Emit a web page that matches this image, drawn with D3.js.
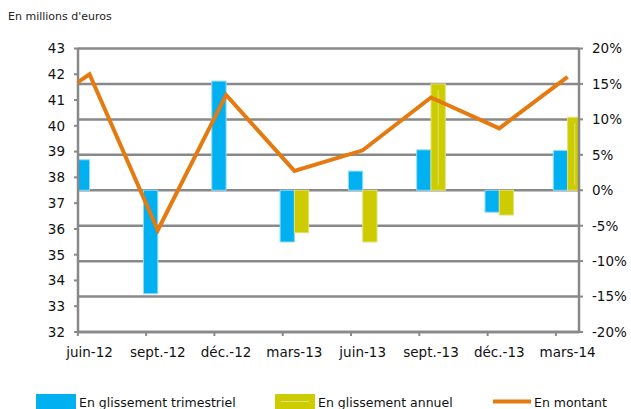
<!DOCTYPE html>
<html>
<head>
<meta charset="utf-8">
<script src="https://cdn.jsdelivr.net/npm/d3@7"></script>
<style>
  html, body { margin: 0; padding: 0; background: #fff; }
  svg { display: block; }
</style>
</head>
<body>
<svg id="chart" width="631" height="409"></svg>
<script>
// ========= Data ========= //
const categories = ['juin-12', 'sept.-12', 'déc.-12', 'mars-13', 'juin-13', 'sept.-13', 'déc.-13', 'mars-14'];
const glissementTrimestriel = [4.3, -14.6, 15.4, -7.3, 2.7, 5.7, -3.1, 5.6];
const glissementAnnuel = [null, null, null, -6.0, -7.3, 15.0, -3.5, 10.3];
const montant = [42.0, 35.95, 41.2, 38.25, 39.05, 41.1, 39.9, 41.9];
const montantPrecedent = 40.2; // mars-12, hors du cadre
const leftTicks = [32, 33, 34, 35, 36, 37, 38, 39, 40, 41, 42, 43];
const rightTicks = [-20, -15, -10, -5, 0, 5, 10, 15, 20];
const legendLabels = ['En glissement trimestriel', 'En glissement annuel', 'En montant'];

// ========= Setup ========= //
const colors = { blue: '#00B0F0', yellow: '#CCCC00', orange: '#E47A10', grid: '#898989' };
const plot = { left: 78, right: 579, top: 48.5, bottom: 332 };
const font = 'DejaVu Sans, Verdana, sans-serif';

const svg = d3.select('#chart');

const x = d3.scaleLinear().domain([0, categories.length - 1]).range([89.5, 567.6]);
const yLeft = d3.scaleLinear().domain([32, 43]).range([plot.bottom, plot.top]);
const yRight = d3.scaleLinear().domain([-20, 20]).range([plot.bottom, plot.top]);
const barW = 14.3;

svg.append('defs').append('clipPath')
  .attr('id', 'plot-clip')
  .append('rect')
    .attr('x', plot.left)
    .attr('y', 0)
    .attr('width', plot.right - plot.left)
    .attr('height', 409);

// ========= Title ========= //
svg.append('text')
  .attr('x', 8)
  .attr('y', 20)
  .attr('font-family', font)
  .attr('font-size', '11px')
  .attr('fill', '#222')
  .text("En millions d'euros");

// ========= Gridlines (right axis) ========= //
svg.append('g')
  .attr('class', 'grid')
  .selectAll('line')
  .data(rightTicks)
  .join('line')
    .attr('x1', plot.left)
    .attr('x2', plot.right)
    .attr('y1', d => yRight(d))
    .attr('y2', d => yRight(d))
    .attr('stroke', colors.grid)
    .attr('stroke-width', 2.5);

// ========= Bars ========= //
const bars = svg.append('g').attr('clip-path', 'url(#plot-clip)');

bars.selectAll('.bar-tri')
  .data(glissementTrimestriel)
  .join('rect')
    .attr('class', 'bar-tri')
    .attr('x', (d, i) => x(i) - barW)
    .attr('y', d => yRight(Math.max(0, d)))
    .attr('width', barW)
    .attr('height', d => Math.abs(yRight(d) - yRight(0)))
    .attr('fill', colors.blue)
    .attr('stroke', '#8fdcf7')
    .attr('stroke-width', 1);

const annuel = glissementAnnuel
  .map((v, i) => ({ v, i }))
  .filter(d => d.v !== null);

bars.selectAll('.bar-an')
  .data(annuel)
  .join('rect')
    .attr('class', 'bar-an')
    .attr('x', d => x(d.i))
    .attr('y', d => yRight(Math.max(0, d.v)))
    .attr('width', barW)
    .attr('height', d => Math.abs(yRight(d.v) - yRight(0)))
    .attr('fill', colors.yellow)
    .attr('stroke', '#e2e27a')
    .attr('stroke-width', 1);

// faint highlight in the taller positive bars
bars.selectAll('.bar-an-hl')
  .data(annuel.filter(d => d.v > 5))
  .join('line')
    .attr('class', 'bar-an-hl')
    .attr('x1', d => x(d.i) + barW / 2)
    .attr('x2', d => x(d.i) + barW / 2)
    .attr('y1', d => yRight(d.v) + 6)
    .attr('y2', d => yRight(0) - 5)
    .attr('stroke', '#e0e07a')
    .attr('stroke-width', 1);

// ========= Axes ========= //
const axes = svg.append('g').attr('stroke', colors.grid);

axes.append('line')
  .attr('x1', plot.left).attr('x2', plot.left)
  .attr('y1', plot.top).attr('y2', plot.bottom + 1)
  .attr('stroke-width', 2.5);
axes.append('line')
  .attr('x1', plot.right).attr('x2', plot.right)
  .attr('y1', plot.top).attr('y2', plot.bottom + 1)
  .attr('stroke-width', 2.5);
axes.append('line')
  .attr('x1', plot.left).attr('x2', plot.right)
  .attr('y1', plot.bottom).attr('y2', plot.bottom)
  .attr('stroke-width', 2.5);

axes.selectAll('.tick-left')
  .data(leftTicks)
  .join('line')
    .attr('x1', plot.left - 4).attr('x2', plot.left)
    .attr('y1', d => yLeft(d)).attr('y2', d => yLeft(d))
    .attr('stroke-width', 2);

axes.selectAll('.tick-right')
  .data(rightTicks)
  .join('line')
    .attr('x1', plot.right).attr('x2', plot.right + 4)
    .attr('y1', d => yRight(d)).attr('y2', d => yRight(d))
    .attr('stroke-width', 2);

axes.selectAll('.tick-bottom')
  .data(categories)
  .join('line')
    .attr('x1', (d, i) => x(i) - 11.7).attr('x2', (d, i) => x(i) - 11.7)
    .attr('y1', plot.bottom).attr('y2', plot.bottom + 4)
    .attr('stroke-width', 2);

const labels = svg.append('g')
  .attr('font-family', font)
  .attr('font-size', '13.5px')
  .attr('fill', '#111');

labels.selectAll('.lab-left')
  .data(leftTicks)
  .join('text')
    .attr('x', 65)
    .attr('y', d => yLeft(d))
    .attr('dy', '0.36em')
    .attr('text-anchor', 'end')
    .text(d => d);

labels.selectAll('.lab-right')
  .data(rightTicks)
  .join('text')
    .attr('x', 592)
    .attr('y', d => yRight(d))
    .attr('dy', '0.36em')
    .text(d => d + '%');

labels.selectAll('.lab-cat')
  .data(categories)
  .join('text')
    .attr('x', (d, i) => x(i))
    .attr('y', 357)
    .attr('text-anchor', 'middle')
    .text(d => d);

// ========= Line (left axis) ========= //
const linePoints = [[-1, montantPrecedent]].concat(montant.map((v, i) => [i, v]));

svg.append('path')
  .attr('clip-path', 'url(#plot-clip)')
  .attr('d', d3.line().x(d => x(d[0])).y(d => yLeft(d[1]))(linePoints))
  .attr('fill', 'none')
  .attr('stroke', colors.orange)
  .attr('stroke-width', 4)
  .attr('stroke-linejoin', 'miter');

// ========= Legend ========= //
const legend = svg.append('g')
  .attr('font-family', font)
  .attr('font-size', '12.5px')
  .attr('fill', '#111');

legend.append('rect')
  .attr('x', 36).attr('y', 394).attr('width', 40).attr('height', 16)
  .attr('fill', colors.blue);
legend.append('rect')
  .attr('x', 275).attr('y', 394).attr('width', 40).attr('height', 16)
  .attr('fill', colors.yellow);
legend.append('line')
  .attr('x1', 281).attr('x2', 309).attr('y1', 401.5).attr('y2', 401.5)
  .attr('stroke', '#e0e07a').attr('stroke-width', 1);
legend.append('line')
  .attr('x1', 493).attr('x2', 531).attr('y1', 401.5).attr('y2', 401.5)
  .attr('stroke', colors.orange).attr('stroke-width', 4);

legend.selectAll('.leg-text')
  .data(legendLabels)
  .join('text')
    .attr('x', (d, i) => [79, 318, 534][i])
    .attr('y', 406.5)
    .text(d => d);
</script>
</body>
</html>
